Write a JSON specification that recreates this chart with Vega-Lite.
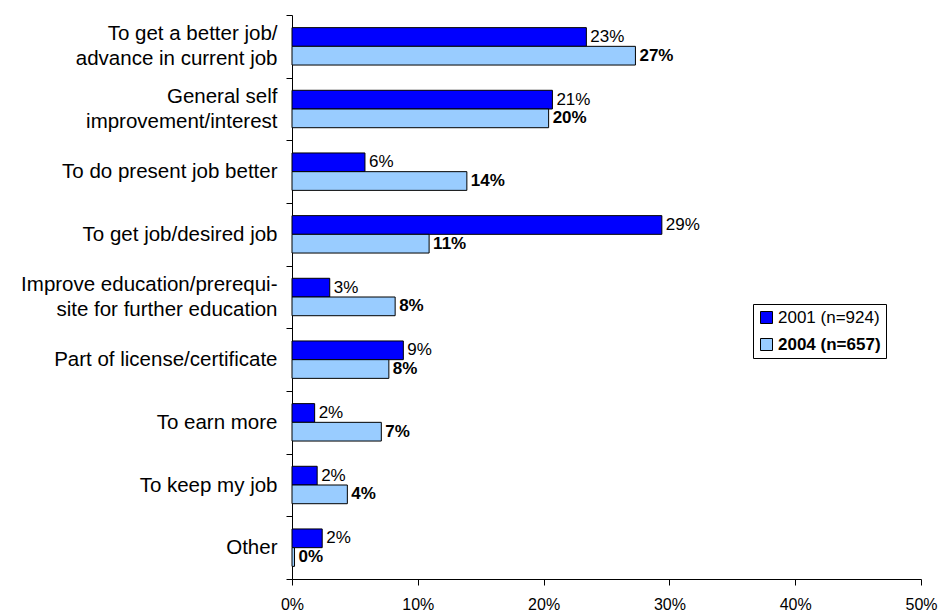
{
  "$schema": "https://vega.github.io/schema/vega-lite/v6.json",
  "autosize": {"type": "none"},
  "padding": {"left": 292, "top": 15, "right": 30, "bottom": 37},
  "width": 629,
  "height": 564,
  "background": "white",
  "config": {
    "view": {"stroke": null},
    "font": "Liberation Sans"
  },
  "data": {
    "values": [
      {"cat": "To get a better job/|advance in current job", "series": "2001 (n=924)", "value": 23.4, "label": "23%"},
      {"cat": "To get a better job/|advance in current job", "series": "2004 (n=657)", "value": 27.3, "label": "27%"},
      {"cat": "General self|improvement/interest", "series": "2001 (n=924)", "value": 20.7, "label": "21%"},
      {"cat": "General self|improvement/interest", "series": "2004 (n=657)", "value": 20.4, "label": "20%"},
      {"cat": "To do present job better", "series": "2001 (n=924)", "value": 5.8, "label": "6%"},
      {"cat": "To do present job better", "series": "2004 (n=657)", "value": 13.9, "label": "14%"},
      {"cat": "To get job/desired job", "series": "2001 (n=924)", "value": 29.4, "label": "29%"},
      {"cat": "To get job/desired job", "series": "2004 (n=657)", "value": 10.9, "label": "11%"},
      {"cat": "Improve education/prerequi-|site for further education", "series": "2001 (n=924)", "value": 3.0, "label": "3%"},
      {"cat": "Improve education/prerequi-|site for further education", "series": "2004 (n=657)", "value": 8.2, "label": "8%"},
      {"cat": "Part of license/certificate", "series": "2001 (n=924)", "value": 8.85, "label": "9%"},
      {"cat": "Part of license/certificate", "series": "2004 (n=657)", "value": 7.7, "label": "8%"},
      {"cat": "To earn more", "series": "2001 (n=924)", "value": 1.8, "label": "2%"},
      {"cat": "To earn more", "series": "2004 (n=657)", "value": 7.1, "label": "7%"},
      {"cat": "To keep my job", "series": "2001 (n=924)", "value": 2.0, "label": "2%"},
      {"cat": "To keep my job", "series": "2004 (n=657)", "value": 4.4, "label": "4%"},
      {"cat": "Other", "series": "2001 (n=924)", "value": 2.4, "label": "2%"},
      {"cat": "Other", "series": "2004 (n=657)", "value": 0.2, "label": "0%"}
    ]
  },
  "encoding": {
    "y": {
      "field": "cat", "type": "nominal", "sort": null,
      "scale": {"paddingInner": 0, "paddingOuter": 0},
      "axis": {
        "title": null,
        "tickBand": "extent",
        "labelExpr": "split(datum.label + '', '|')",
        "labelBaseline": {"condition": {"test": "indexof(datum.value + '', '|') >= 0", "value": "line-bottom"}, "value": "middle"},
        "labelFontSize": 20.5,
        "labelLineHeight": 25,
        "labelColor": "#000000",
        "labelPadding": 9,
        "tickSize": 6,
        "tickColor": "#000000",
        "domainColor": "#000000",
        "labelLimit": 300
      }
    },
    "yOffset": {
      "field": "series", "type": "nominal",
      "scale": {"paddingInner": 0, "paddingOuter": 0.675}
    },
    "x": {
      "field": "value", "type": "quantitative",
      "scale": {"domain": [0, 50]},
      "axis": {
        "title": null,
        "values": [0, 10, 20, 30, 40, 50],
        "labelExpr": "datum.value + '%'",
        "labelFlush": false,
        "grid": false,
        "labelFontSize": 16,
        "labelColor": "#000000",
        "labelPadding": 11,
        "tickSize": 6,
        "tickColor": "#000000",
        "domainColor": "#000000"
      }
    }
  },
  "layer": [
    {
      "mark": {"type": "bar", "stroke": "#000000", "strokeWidth": 1},
      "encoding": {
        "color": {
          "field": "series", "type": "nominal",
          "scale": {"domain": ["2001 (n=924)", "2004 (n=657)"], "range": ["#0000FF", "#99CCFF"]},
          "legend": {
            "title": null,
            "orient": "none",
            "legendX": 461,
            "legendY": 289,
            "strokeColor": "#000000",
            "padding": 5,
            "symbolType": "square",
            "symbolSize": 144,
            "symbolStrokeColor": "#000000",
            "symbolStrokeWidth": 1,
            "labelFontSize": 17,
            "labelColor": "#000000",
            "labelFontWeight": {"expr": "datum.label == '2004 (n=657)' ? 'bold' : 'normal'"},
            "rowPadding": 9,
            "labelOffset": 3
          }
        }
      }
    },
    {
      "transform": [{"filter": "datum.series == '2001 (n=924)'"}],
      "mark": {"type": "text", "align": "left", "baseline": "middle", "dx": 4, "fontSize": 17, "color": "#000000"},
      "encoding": {"text": {"field": "label"}}
    },
    {
      "transform": [{"filter": "datum.series == '2004 (n=657)'"}],
      "mark": {"type": "text", "align": "left", "baseline": "middle", "dx": 4, "fontSize": 17, "fontWeight": "bold", "color": "#000000"},
      "encoding": {"text": {"field": "label"}}
    }
  ]
}
